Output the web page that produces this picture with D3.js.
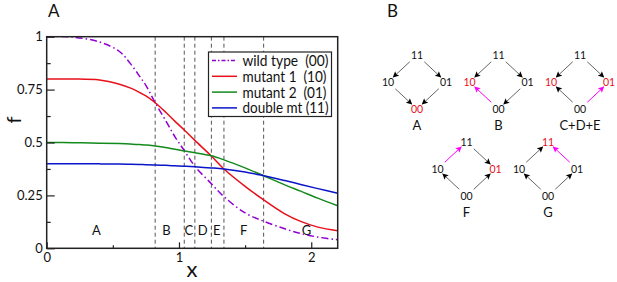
<!DOCTYPE html>
<html>
<head>
<meta charset="utf-8">
<script src="https://cdn.jsdelivr.net/npm/d3@7"></script>
<style>
  body { margin: 0; background: #fff; }
  text { font-family: Lato, "Open Sans", sans-serif; fill: #111; }
</style>
</head>
<body>
<div id="chart"></div>
<script>
// fitness curves
const xs        = [0, 0.2, 0.4, 0.55, 0.63, 0.7, 0.75, 0.82, 0.9, 0.97, 1.04, 1.12, 1.245, 1.34, 1.5, 1.64, 1.8, 1.92, 2.05, 2.2];
const wildType  = [1.0, 0.998, 0.975, 0.93, 0.875, 0.815, 0.77, 0.688, 0.603, 0.527, 0.462, 0.388, 0.305, 0.244, 0.167, 0.128, 0.092, 0.07, 0.053, 0.04];
const mutant1   = [0.8, 0.8, 0.795, 0.775, 0.758, 0.737, 0.72, 0.688, 0.643, 0.6, 0.559, 0.51, 0.436, 0.375, 0.293, 0.229, 0.163, 0.127, 0.1, 0.083];
const mutant2   = [0.5, 0.499, 0.497, 0.495, 0.493, 0.49, 0.488, 0.484, 0.476, 0.468, 0.46, 0.452, 0.437, 0.418, 0.38, 0.343, 0.3, 0.27, 0.237, 0.201];
const doubleMt  = [0.4, 0.4, 0.399, 0.398, 0.397, 0.396, 0.395, 0.394, 0.392, 0.39, 0.388, 0.385, 0.38, 0.375, 0.361, 0.343, 0.32, 0.302, 0.282, 0.26];

const seriesNames  = ['wild type  (00)', 'mutant 1  (10)', 'mutant 2  (01)', 'double mt (11)'];
const seriesColors = ['#9400d3', '#e8101a', '#138a1c', '#0a14c8'];
const seriesDash   = ['7,3,1.5,3', null, null, null];
const seriesValues = [wildType, mutant1, mutant2, doubleMt];

const boundaries   = [0.82, 1.04, 1.12, 1.245, 1.34, 1.64];
const regionNames  = ['A', 'B', 'C', 'D', 'E', 'F', 'G'];
const regionX      = [0.375, 0.905, 1.075, 1.18, 1.285, 1.49, 1.965];

const xMajor = [0, 1, 2];
const xMinor = [0.5, 1.5];
const yMajor = [0, 0.25, 0.5, 0.75, 1];
const yMinor = [0.125, 0.375, 0.625, 0.875];

// landscape diagrams for panel B
const nodes = ['11', '10', '01', '00'];
const nodeDx = [0, -29, 29, 0];
const nodeDy = [-27, 0, 0, 27];
const diagrams = [
  { label: 'A',     row: 0, col: 0, red: ['00'],       edges: [['11','10'], ['11','01'], ['10','00'], ['01','00']], magenta: [] },
  { label: 'B',     row: 0, col: 1, red: ['10'],       edges: [['11','10'], ['11','01'], ['01','00'], ['00','10']], magenta: [['00','10']] },
  { label: 'C+D+E', row: 0, col: 2, red: ['10', '01'], edges: [['11','10'], ['11','01'], ['00','10'], ['00','01']], magenta: [['00','01']] },
  { label: 'F',     row: 1, col: 0, red: ['01'],       edges: [['10','11'], ['11','01'], ['00','10'], ['00','01']], magenta: [['10','11']] },
  { label: 'G',     row: 1, col: 1, red: ['11'],       edges: [['10','11'], ['01','11'], ['00','10'], ['00','01']], magenta: [['01','11']] }
];

const width = 617, height = 282;
const svg = d3.select('#chart').append('svg')
    .attr('width', width)
    .attr('height', height);

const x = d3.scaleLinear().domain([0, 2.2]).range([46.7, 337.7]);
const y = d3.scaleLinear().domain([0, 1]).range([248.3, 36.7]);

const plot = svg.append('g');

svg.append('defs').append('clipPath').attr('id', 'clip')
  .append('rect')
    .attr('x', x(0)).attr('y', y(1))
    .attr('width', x(2.2) - x(0)).attr('height', y(0) - y(1));

// region boundaries
plot.selectAll('.bound').data(boundaries).join('line')
    .attr('x1', d => x(d)).attr('x2', d => x(d))
    .attr('y1', y(1)).attr('y2', y(0))
    .attr('stroke', '#555')
    .attr('stroke-width', 1)
    .attr('stroke-dasharray', '4,3');

plot.selectAll('.region').data(regionNames).join('text')
    .attr('x', (d, i) => x(regionX[i]))
    .attr('y', y(0.086))
    .attr('text-anchor', 'middle')
    .attr('dominant-baseline', 'central')
    .attr('font-size', 13)
    .text(d => d);

// curves
const line = d3.line()
    .x((d, i) => x(xs[i]))
    .y(d => y(d))
    .curve(d3.curveCatmullRom);

plot.append('g').attr('clip-path', 'url(#clip)')
  .selectAll('path').data(seriesValues).join('path')
    .attr('d', line)
    .attr('fill', 'none')
    .attr('stroke', (d, i) => seriesColors[i])
    .attr('stroke-width', 1.5)
    .attr('stroke-dasharray', (d, i) => seriesDash[i]);

// axes, ticks pointing inward
function styleAxis(g) {
  g.select('.domain').remove();
  g.selectAll('.tick line').attr('stroke', '#222').attr('stroke-width', 1.2);
  g.selectAll('.tick text').attr('font-size', 13).attr('font-family', 'Lato, sans-serif').attr('fill', '#111');
}

plot.append('g')
    .attr('transform', `translate(0,${y(0)})`)
    .call(d3.axisBottom(x).tickValues(xMajor).tickSizeInner(-6).tickSizeOuter(0).tickPadding(4).tickFormat(d => d))
    .call(styleAxis);
plot.append('g')
    .attr('transform', `translate(0,${y(0)})`)
    .call(d3.axisBottom(x).tickValues(xMinor).tickSizeInner(-3).tickSizeOuter(0).tickFormat(''))
    .call(styleAxis);
plot.append('g')
    .attr('transform', `translate(${x(0)},0)`)
    .call(d3.axisLeft(y).tickValues(yMajor).tickSizeInner(-8).tickSizeOuter(0).tickPadding(4).tickFormat(d => d))
    .call(styleAxis);
plot.append('g')
    .attr('transform', `translate(${x(0)},0)`)
    .call(d3.axisLeft(y).tickValues(yMinor).tickSizeInner(-4).tickSizeOuter(0).tickFormat(''))
    .call(styleAxis);

plot.append('rect')
    .attr('x', x(0)).attr('y', y(1))
    .attr('width', x(2.2) - x(0)).attr('height', y(0) - y(1))
    .attr('fill', 'none')
    .attr('stroke', '#222')
    .attr('stroke-width', 1.5);

// legend
const legend = plot.append('g');
legend.append('rect')
    .attr('x', 208.5).attr('y', 52)
    .attr('width', 123).attr('height', 64.5)
    .attr('fill', '#fff')
    .attr('stroke', '#222')
    .attr('stroke-width', 1.2);
const rows = legend.selectAll('.row').data(seriesNames).join('g')
    .attr('transform', (d, i) => `translate(0,${60.5 + i * 15.8})`);
rows.append('line')
    .attr('x1', 212).attr('x2', 237)
    .attr('stroke', (d, i) => seriesColors[i])
    .attr('stroke-width', 1.5)
    .attr('stroke-dasharray', (d, i) => seriesDash[i] ? '4,2,1.5,2' : null);
rows.append('text')
    .attr('x', 242.5)
    .attr('dominant-baseline', 'central')
    .attr('font-size', 14.5)
    .attr('textLength', (d, i) => [86, 84, 84, 86][i])
    .attr('lengthAdjust', 'spacingAndGlyphs')
    .style('white-space', 'pre')
    .text(d => d);

// axis titles and panel letters
svg.append('text').attr('x', 192).attr('y', 277).attr('text-anchor', 'middle').attr('font-size', 22).text('x');
svg.append('text').attr('transform', 'translate(21,120) rotate(-90)').attr('text-anchor', 'middle').attr('font-size', 20).text('f');
svg.append('text').attr('x', 48).attr('y', 17).attr('font-size', 17).text('A');
svg.append('text').attr('x', 387).attr('y', 17).attr('font-size', 17).text('B');

// panel B diagrams
const colX = d3.scaleLinear().domain([0, 2]).range([417, 580]);
const rowY = d3.scalePoint().domain([0, 1]).range([82, 169]);

const defs = svg.select('defs');
[['head-black', '#000'], ['head-magenta', '#ff00ff']].forEach(([id, c]) => {
  defs.append('marker')
      .attr('id', id)
      .attr('viewBox', '0 -5 10 10')
      .attr('refX', 9).attr('refY', 0)
      .attr('markerWidth', 7).attr('markerHeight', 6)
      .attr('markerUnits', 'userSpaceOnUse')
      .attr('orient', 'auto')
    .append('path')
      .attr('d', 'M0,-5L10,0L0,5L2,0Z')
      .attr('fill', c);
});

const dg = svg.selectAll('.diagram').data(diagrams).join('g')
    .attr('transform', d => `translate(${d.row === 1 ? colX(d.col) + 49.5 : colX(d.col)},${rowY(d.row)})`);

dg.each(function (d) {
  const g = d3.select(this);
  const pos = n => { const k = nodes.indexOf(n); return [nodeDx[k], nodeDy[k]]; };
  const isMag = e => d.magenta.some(m => m[0] === e[0] && m[1] === e[1]);
  g.selectAll('line').data(d.edges).join('line')
      .each(function (e) {
        const [x0, y0] = pos(e[0]), [x1, y1] = pos(e[1]);
        const dx = x1 - x0, dy = y1 - y0;
        d3.select(this)
            .attr('x1', x0 + dx * 0.25).attr('y1', y0 + dy * 0.25)
            .attr('x2', x0 + dx * 0.82).attr('y2', y0 + dy * 0.82);
      })
      .attr('stroke', e => isMag(e) ? '#ff00ff' : '#666')
      .attr('stroke-width', 1)
      .attr('marker-end', e => isMag(e) ? 'url(#head-magenta)' : 'url(#head-black)');
  g.selectAll('text.node').data(nodes).join('text')
      .attr('class', 'node')
      .attr('x', (n, i) => nodeDx[i])
      .attr('y', (n, i) => nodeDy[i])
      .attr('text-anchor', 'middle')
      .attr('dominant-baseline', 'central')
      .attr('font-family', '"DejaVu Sans", sans-serif')
      .attr('font-size', 10.5)
      .style('fill', n => d.red.includes(n) ? '#e8101a' : '#111')
      .text(n => n);
  g.append('text')
      .attr('y', 43)
      .attr('text-anchor', 'middle')
      .attr('dominant-baseline', 'central')
      .attr('font-size', 13)
      .text(d.label);
});
</script>
</body>
</html>
